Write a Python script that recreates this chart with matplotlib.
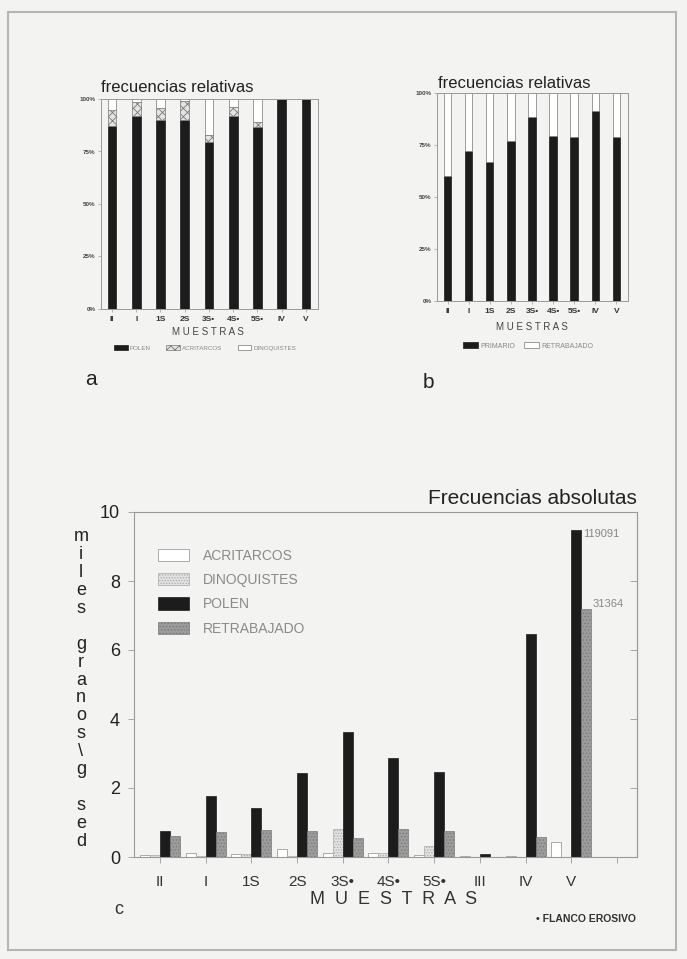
import matplotlib
matplotlib.use('Agg')
import matplotlib.pyplot as plt
from matplotlib.patches import Rectangle

W, H = 687, 959
plt.rcParams['font.family'] = ['Liberation Sans', 'DejaVu Sans']
plt.rcParams['hatch.linewidth'] = 0.6

# datos de las tres figuras
muestras_rel = ['II', 'I', '1S', '2S', '3S•', '4S•', '5S•', 'IV', 'V']
polen_pct = [87, 92, 90, 90, 79.5, 92, 86.5, 100, 100]
acrit_pct = [8, 6.4, 5.6, 9, 3.3, 4.4, 2.7, 0, 0]
dino_pct = [5, 1.6, 4.4, 1, 17.2, 3.6, 10.8, 0, 0]

primario_pct = [60, 72, 67, 77, 88.7, 79.4, 79, 91.5, 79]
retrab_pct = [40, 28, 33, 23, 11.3, 20.6, 21, 8.5, 21]

muestras_abs = ['II', 'I', '1S', '2S', '3S•', '4S•', '5S•', 'III', 'IV', 'V']
acrit_abs = [0.05, 0.13, 0.08, 0.24, 0.13, 0.12, 0.07, 0.03, 0.02, 0.44]
dino_abs = [0.05, 0.03, 0.08, 0.03, 0.81, 0.13, 0.32, 0.0, 0.0, 0.0]
polen_abs = [0.76, 1.77, 1.43, 2.43, 3.61, 2.88, 2.45, 0.10, 6.45, 9.47]
retrab_abs = [0.60, 0.73, 0.78, 0.76, 0.56, 0.80, 0.75, 0.0, 0.59, 7.18]
etiq_v = ['119091', '31364']

BLACK = '#1c1c1c'
EDGE = '#9a9a9a'
BG = '#f3f3f1'


def px(x, y):
    return x / W, 1 - y / H


def box(l, t, r, b):
    return [l / W, 1 - b / H, (r - l) / W, (b - t) / H]


fig = plt.figure(figsize=(W / 100, H / 100), dpi=100, facecolor=BG)
fig.patches.append(Rectangle(px(8, 950), (676 - 8) / W, (950 - 12) / H,
                             transform=fig.transFigure, fill=False,
                             edgecolor='#b5b5b5', lw=1.5))


def style_rel(ax):
    ax.set_facecolor(BG)
    for s in ax.spines.values():
        s.set_color(EDGE)
        s.set_linewidth(0.7)
    ax.set_ylim(0, 100)
    ax.set_yticks([0, 25, 50, 75, 100])
    ax.set_yticklabels(['0%', '25%', '50%', '75%', '100%'],
                       fontsize=4.5, fontweight='bold', color='#444')
    ax.tick_params(axis='y', length=2, width=0.5, color=EDGE, pad=2)
    ax.tick_params(axis='x', length=2, width=0.5, color=EDGE, pad=3,
                   labelsize=6, labelcolor='#333')
    ax.set_xticks(range(len(muestras_rel)))
    ax.set_xticklabels(muestras_rel, fontweight='bold')


# ---- a: polen / acritarcos / dinoquistes
axa = fig.add_axes(box(101, 99, 318, 309))
xs = range(len(muestras_rel))
wa = 0.36
axa.bar(xs, polen_pct, wa, color=BLACK, edgecolor=BLACK, lw=0.5,
        label='POLEN')
axa.bar(xs, acrit_pct, wa, bottom=polen_pct, color='#e4e4e4',
        edgecolor='#777', hatch='xxxx', lw=0.5, label='ACRITARCOS')
bot = [p + a for p, a in zip(polen_pct, acrit_pct)]
axa.bar(xs, dino_pct, wa, bottom=bot, color='white', edgecolor='#777',
        lw=0.5, label='DINOQUISTES')
axa.set_xlim(-0.45, 8.5)
style_rel(axa)
fig.text(*px(101, 88), 'frecuencias relativas', fontsize=12, color='#222',
         va='center', ha='left')
fig.text(*px(208, 332), 'M U E S T R A S', fontsize=7, color='#444',
         ha='center', va='center')
axa.legend(loc='center', bbox_to_anchor=(*px(205, 348),),
           bbox_transform=fig.transFigure,
           ncol=3, frameon=False, fontsize=4.5, handlelength=2.2,
           handleheight=0.9, columnspacing=2.5, handletextpad=0.3,
           labelcolor='#888')
fig.text(*px(91, 379), 'a', fontsize=15, color='#222', ha='center',
         va='center')

# ---- b: primario / retrabajado
axb = fig.add_axes(box(437, 93, 628, 301))
wb = 0.35
axb.bar(xs, primario_pct, wb, color=BLACK, edgecolor=BLACK, lw=0.5,
        label='PRIMARIO')
axb.bar(xs, retrab_pct, wb, bottom=primario_pct, color='white',
        edgecolor='#777', lw=0.5, label='RETRABAJADO')
axb.set_xlim(-0.5, 8.55)
style_rel(axb)
fig.text(*px(438, 84), 'frecuencias relativas', fontsize=12, color='#222',
         va='center', ha='left')
fig.text(*px(532, 327), 'M U E S T R A S', fontsize=7, color='#444',
         ha='center', va='center')
axb.legend(loc='center', bbox_to_anchor=(*px(528, 346),),
           bbox_transform=fig.transFigure,
           ncol=2, frameon=False, fontsize=5, handlelength=2.2,
           handleheight=0.9, columnspacing=1.2, handletextpad=0.3,
           labelcolor='#888')
fig.text(*px(428, 382), 'b', fontsize=15, color='#222', ha='center',
         va='center')

# ---- c: frecuencias absolutas
axc = fig.add_axes(box(134, 512, 637, 857))
axc.set_facecolor(BG)
g = range(len(muestras_abs))
w = 0.219
axc.bar([i - 1.5 * w for i in g], acrit_abs, w, color='white',
        edgecolor='#aaa', lw=0.7, label='ACRITARCOS')
axc.bar([i - 0.5 * w for i in g], dino_abs, w, color='#e2e2e2',
        edgecolor='#aaa', hatch='......', lw=0.5, label='DINOQUISTES')
axc.bar([i + 0.5 * w for i in g], polen_abs, w, color=BLACK,
        edgecolor=BLACK, lw=0.5, label='POLEN')
axc.bar([i + 1.5 * w for i in g], retrab_abs, w, color='#9c9c9c',
        edgecolor='#7a7a7a', hatch='.....', lw=0.5, label='RETRABAJADO')
axc.set_xlim(-0.57, 10.44)
axc.set_ylim(0, 10)
for s in axc.spines.values():
    s.set_color(EDGE)
    s.set_linewidth(0.8)
axc.set_yticks([0, 2, 4, 6, 8, 10])
axc.set_yticklabels(['0', '2', '4', '6', '8', '10'], fontsize=13,
                    color='#222')
axc.tick_params(axis='y', length=4, width=0.6, color=EDGE, pad=6)
axc.set_xticks(list(g) + [10])
axc.set_xticklabels(muestras_abs + [''], fontsize=11, color='#333')
axc.tick_params(axis='x', length=4, width=0.6, color=EDGE, pad=9)
axr = axc.secondary_yaxis('right')
axr.set_yticks([2, 4, 6, 8])
axr.tick_params(axis='y', direction='in', length=5, width=0.6, color=EDGE,
                labelright=False)
axr.spines['right'].set_color(EDGE)
axr.spines['right'].set_linewidth(0.8)

axc.annotate(etiq_v[0], (9 + w, polen_abs[9]), xytext=(1, -3),
             textcoords='offset points', fontsize=8, color='#888',
             ha='left', va='center')
axc.annotate(etiq_v[1], (9 + 2 * w, retrab_abs[9]), xytext=(1, 4),
             textcoords='offset points', fontsize=8, color='#888',
             ha='left', va='center')

axc.legend(loc='upper left', bbox_to_anchor=(*px(145, 536),),
           bbox_transform=fig.transFigure, frameon=False, fontsize=10,
           handlelength=2.3, handleheight=1.0, labelspacing=0.75,
           handletextpad=1.0, labelcolor='#8a8a8a')

fig.text(*px(637, 498), 'Frecuencias absolutas', fontsize=15, color='#222',
         ha='right', va='center')
ylab = ['m', 'i', 'l', 'e', 's', ' ', 'g', 'r', 'a', 'n', 'o', 's', '\\',
        'g', ' ', 's', 'e', 'd']
fig.text(*px(81, 689), '\n'.join(ylab), fontsize=13, color='#222',
         ha='center', va='center', linespacing=1.07)
fig.text(*px(394, 899), 'M  U  E  S  T  R  A  S', fontsize=13,
         color='#333', ha='center', va='center')
fig.text(*px(119, 909), 'c', fontsize=13, color='#333', ha='center',
         va='center')
fig.text(*px(636, 919), '• FLANCO EROSIVO', fontsize=7.5, color='#333',
         fontweight='bold', ha='right', va='center')

fig.savefig('out.png', dpi=100, facecolor=BG)
